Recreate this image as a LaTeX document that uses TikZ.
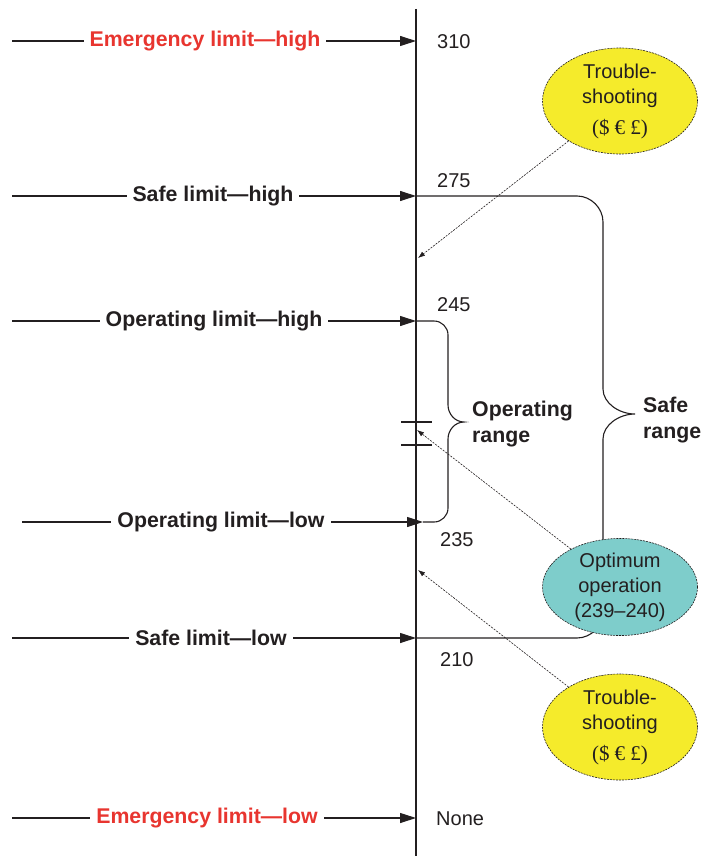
\documentclass[tikz,border=0pt]{standalone}
\usepackage{fontspec}
\setmainfont{Liberation Sans}
\newfontfamily\symfont{Liberation Serif}
\usetikzlibrary{arrows.meta,shapes.geometric}
\definecolor{ink}{HTML}{231F20}
\definecolor{limred}{HTML}{E8352F}
\definecolor{tsyellow}{HTML}{F5EB2B}
\definecolor{optcyan}{HTML}{7ECDCB}
\begin{document}
\begin{tikzpicture}[x=1pt,y=-1pt,
  every node/.style={text=ink},
  axisline/.style={draw=ink, line width=1.3pt},
  limitline/.style={draw=ink, line width=1.1pt, -{Triangle[length=16pt,width=10pt]}},
  limitlabel/.style={fill=white, inner xsep=6pt, inner ysep=2pt,
    font=\fontsize{21.3}{25}\selectfont\bfseries},
  redlabel/.style={limitlabel, text=limred},
  value/.style={anchor=west, inner sep=0pt, font=\fontsize{20}{24}\selectfont},
  bracepath/.style={draw=ink, line width=1.1pt},
  rangelabel/.style={anchor=west, align=left, inner sep=0pt,
    font=\fontsize{21.3}{26}\selectfont\bfseries},
  bubble/.style={ellipse, draw=ink, line width=0.6pt, dash pattern=on 2pt off 1pt,
    minimum width=155pt, minimum height=91pt, inner sep=0pt, align=center,
    font=\fontsize{20}{25}\selectfont},
  pointer/.style={draw=ink, line width=0.6pt, dash pattern=on 2pt off 1.2pt,
    -{Latex[length=7pt,width=5pt]}}
]
\useasboundingbox (0,0) rectangle (701,856);

% vertical scale
\coordinate (axtop) at (416,9);
\coordinate (axbot) at (416,856);
\draw[axisline] (axtop) -- (axbot);

% limit arrows: start points and points on the scale
\coordinate (eh0) at (12,41);   \coordinate (eh1) at (416,41);
\coordinate (sh0) at (12,196);  \coordinate (sh1) at (416,196);
\coordinate (oh0) at (12,321);  \coordinate (oh1) at (416,321);
\coordinate (ol0) at (22,522);  \coordinate (ol1) at (423,522);
\coordinate (sl0) at (12,638);  \coordinate (sl1) at (416,638);
\coordinate (el0) at (12,818);  \coordinate (el1) at (416,818);

\draw[limitline] (eh0) -- (eh1);
\draw[limitline] (sh0) -- (sh1);
\draw[limitline] (oh0) -- (oh1);
\draw[limitline] (ol0) -- (ol1);
\draw[limitline] (sl0) -- (sl1);
\draw[limitline] (el0) -- (el1);

\node[redlabel]   (ehl) at (205,41)  {Emergency limit---high};
\node[limitlabel] (shl) at (213,196) {Safe limit---high};
\node[limitlabel] (ohl) at (214,321) {Operating limit---high};
\node[limitlabel] (oll) at (221,522) {Operating limit---low};
\node[limitlabel] (sll) at (211,638) {Safe limit---low};
\node[redlabel]   (ell) at (207,818) {Emergency limit---low};

% scale values
\node[value] (v310)  at (437,42)  {310};
\node[value] (v275)  at (437,181) {275};
\node[value] (v245)  at (437,305) {245};
\node[value] (v235)  at (440,540) {235};
\node[value] (v210)  at (440,660) {210};
\node[value] (vnone) at (436,819) {None};

% operating range brace
\draw[bracepath] (oh1) -- (434,321)
  .. controls (441.7,321) and (448,327.3) .. (448,335)
  -- (448,405)
  .. controls (448,414) and (455,422) .. (464,422)
  .. controls (455,422) and (448,430) .. (448,439)
  -- (448,508)
  .. controls (448,515.7) and (441.7,522) .. (434,522)
  -- (ol1);

% safe range brace
\draw[bracepath] (sh1) -- (577,196)
  .. controls (591,196) and (603,208) .. (603,222)
  -- (603,389)
  .. controls (603,403) and (619,414) .. (635,414)
  .. controls (619,414) and (603,425) .. (603,439)
  -- (603,612)
  .. controls (603,626) and (591,638) .. (577,638)
  -- (sl1);

\node[rangelabel] (oprange)   at (472,424) {Operating\\range};
\node[rangelabel] (saferange) at (643,420) {Safe\\range};

% optimum band marks
\coordinate (m1a) at (401,422); \coordinate (m1b) at (432,422);
\coordinate (m2a) at (401,445); \coordinate (m2b) at (432,445);
\draw[bracepath] (m1a) -- (m1b);
\draw[bracepath] (m2a) -- (m2b);

% callouts
\node[bubble, fill=tsyellow] (tshigh) at (620,101)
  {Trouble-\\shooting\\[6pt]{\symfont\fontsize{21}{25}\selectfont(\$ € £)}};
\node[bubble, fill=optcyan, minimum height=90pt] (optimum) at (620,587)
  {Optimum\\operation\\(239--240)};
\node[bubble, fill=tsyellow] (tslow) at (620,727)
  {Trouble-\\shooting\\[6pt]{\symfont\fontsize{21}{25}\selectfont(\$ € £)}};

\coordinate (tsh-tip) at (418,258);
\coordinate (opt-tip) at (417,430);
\coordinate (tsl-tip) at (418,570);
\draw[pointer] (tshigh) -- (tsh-tip);
\draw[pointer] (optimum) -- (opt-tip);
\draw[pointer] (tslow) -- (tsl-tip);
\end{tikzpicture}
\end{document}
